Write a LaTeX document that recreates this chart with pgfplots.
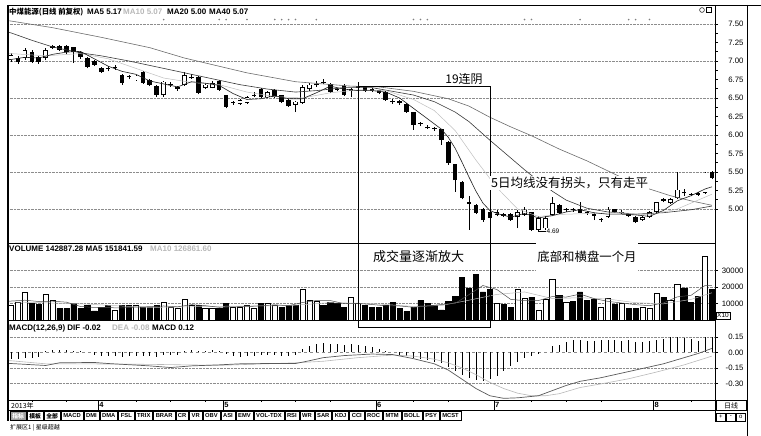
\documentclass[border=0pt]{standalone}
\usepackage{pgfplots}
\pgfplotsset{compat=1.18}
\usepackage{pgfplotstable}
\usepackage{fontspec}
\setmainfont{Liberation Sans}
\newfontfamily\cjk{Noto Sans CJK SC}

\definecolor{ma5c}{gray}{0.12}
\definecolor{ma10c}{gray}{0.75}
\definecolor{ma20c}{gray}{0.22}
\definecolor{ma40c}{gray}{0.42}
\definecolor{gridc}{gray}{0.55}
\definecolor{lightc}{gray}{0.72}

% hollow (rising) candles: index open high low close
\pgfplotstableread{
i o h l c
0 7.01 7.11 6.99 7.08
2 7.04 7.18 7.02 7.15
5 7.04 7.17 7.01 7.15
18 6.74 6.81 6.73 6.80
22 6.54 6.73 6.52 6.72
25 6.68 6.85 6.66 6.81
28 6.64 6.70 6.62 6.68
29 6.64 6.73 6.63 6.70
33 6.42 6.48 6.41 6.47
34 6.43 6.53 6.42 6.51
37 6.51 6.60 6.50 6.58
41 6.41 6.46 6.31 6.45
42 6.43 6.68 6.42 6.65
43 6.62 6.70 6.60 6.68
70 4.92 4.99 4.90 4.96
73 4.89 4.98 4.74 4.96
74 4.92 5.03 4.91 4.99
76 4.72 4.90 4.69 4.88
77 4.74 4.90 4.72 4.88
78 4.92 5.16 4.90 5.08
86 4.89 5.03 4.88 4.99
91 4.85 4.90 4.84 4.89
92 4.89 4.97 4.88 4.96
93 4.96 5.10 4.95 5.09
95 5.08 5.15 5.07 5.13
96 5.15 5.50 5.13 5.26
100 5.22 5.50 5.20 5.49
}\cup

% solid (falling) candles and crosses
\pgfplotstableread{
i o h l c
1 7.04 7.07 6.96 6.99
3 7.12 7.15 6.97 6.99
4 7.05 7.07 6.96 6.99
6 7.18 7.22 7.16 7.19
7 7.19 7.21 7.13 7.15
8 7.19 7.22 7.10 7.12
9 7.18 7.19 6.97 7.12
10 7.12 7.14 7.03 7.05
11 7.03 7.05 6.90 6.92
12 7.00 7.01 6.93 6.95
13 6.90 6.92 6.84 6.85
14 6.90 6.93 6.86 6.89
15 6.90 6.95 6.88 6.91
16 6.81 6.83 6.68 6.70
17 6.79 6.81 6.75 6.78
19 6.84 6.86 6.69 6.70
20 6.74 6.75 6.66 6.68
21 6.66 6.67 6.52 6.54
23 6.68 6.72 6.65 6.67
24 6.62 6.66 6.60 6.64
26 6.77 6.83 6.76 6.78
27 6.78 6.80 6.55 6.57
30 6.73 6.74 6.60 6.61
31 6.53 6.54 6.36 6.38
32 6.44 6.46 6.41 6.43
35 6.53 6.58 6.51 6.54
36 6.61 6.63 6.50 6.51
38 6.60 6.62 6.50 6.51
39 6.53 6.54 6.43 6.45
40 6.47 6.48 6.38 6.39
44 6.67 6.73 6.65 6.68
45 6.71 6.76 6.69 6.70
46 6.68 6.70 6.57 6.58
47 6.61 6.64 6.59 6.62
48 6.66 6.69 6.53 6.54
49 6.60 6.64 6.51 6.62
50 6.64 6.72 6.62 6.66
51 6.64 6.66 6.58 6.60
52 6.62 6.64 6.58 6.60
53 6.60 6.61 6.55 6.57
54 6.58 6.60 6.46 6.47
55 6.46 6.48 6.42 6.44
56 6.45 6.47 6.41 6.43
57 6.41 6.43 6.30 6.31
58 6.30 6.31 6.07 6.14
59 6.16 6.18 6.12 6.15
60 6.10 6.13 6.08 6.09
61 6.09 6.11 6.06 6.08
62 6.07 6.08 5.87 5.93
63 5.90 5.92 5.60 5.62
64 5.60 5.61 5.23 5.39
65 5.36 5.38 5.13 5.15
66 5.09 5.17 4.72 5.07
67 5.05 5.07 4.93 4.95
68 4.99 5.01 4.83 4.85
69 4.95 4.97 4.86 4.88
71 4.91 4.94 4.89 4.92
72 4.92 4.94 4.84 4.85
75 4.95 4.96 4.70 4.72
79 5.05 5.07 4.93 4.95
80 4.98 5.02 4.96 4.99
81 4.99 5.01 4.96 4.98
82 4.99 5.10 4.94 4.95
83 4.95 4.97 4.92 4.94
84 4.93 4.95 4.85 4.91
85 4.86 4.88 4.83 4.85
87 4.99 5.00 4.95 4.96
88 4.95 4.99 4.93 4.94
89 4.93 4.94 4.89 4.91
90 4.89 4.91 4.81 4.82
94 5.11 5.15 5.09 5.13
97 5.23 5.27 5.18 5.21
98 5.20 5.22 5.17 5.19
99 5.19 5.23 5.18 5.21
101 5.50 5.52 5.40 5.42
}\cdn

\pgfplotstableread{
i v
0 8700
1 10600
2 16900
5 15600
6 11900
15 6200
18 8700
22 10600
23 7500
24 6900
25 12500
26 8700
28 6900
29 6900
32 7500
33 7500
34 8700
35 6900
37 10000
38 8700
42 18700
43 11900
44 11200
49 13700
50 10000
70 10000
73 18700
74 13000
76 6200
77 12500
78 25000
80 10600
85 7500
86 13000
88 10000
91 7500
92 6900
93 16000
95 11900
96 21900
100 38700
}\volup

\pgfplotstableread{
i v
3 10000
4 9400
7 6900
8 6900
9 10000
10 6900
11 8700
12 5600
13 7500
14 8700
16 8700
17 8700
19 7500
20 7500
21 8700
27 8700
30 6900
31 10000
36 10000
39 7500
40 8700
41 8700
45 8700
46 10600
47 10000
48 7500
51 8700
52 7500
53 7500
54 9000
55 10600
56 6900
57 5000
58 8000
59 11900
60 10000
61 8700
62 6200
63 11200
64 14400
65 26000
66 19400
67 27500
68 17000
69 18700
71 9400
72 7500
75 13700
79 15000
81 11200
82 17000
83 11900
84 12500
87 9400
89 6900
90 6900
94 13700
97 19400
98 10600
99 14400
101 18700
}\voldn

\pgfplotstableread{
i m
0 -0.06
1 -0.06
2 -0.05
3 -0.05
4 -0.04
5 0.01
6 0.02
7 0.02
8 0.02
9 0.01
10 0.01
12 -0.02
13 -0.03
14 -0.03
15 -0.03
16 -0.04
17 -0.03
18 -0.03
19 -0.03
20 -0.03
21 -0.04
22 -0.02
23 -0.02
24 -0.02
25 0.01
26 0.02
27 0.01
28 0.01
29 0.02
30 0.01
31 -0.01
32 -0.03
33 -0.04
34 -0.03
35 -0.03
36 -0.02
37 -0.02
38 -0.02
39 -0.03
40 -0.03
41 -0.02
42 0.03
43 0.06
44 0.08
45 0.09
46 0.08
47 0.08
48 0.07
49 0.08
50 0.07
51 0.06
52 0.05
53 0.03
54 0.01
56 -0.02
57 -0.03
58 -0.05
59 -0.06
60 -0.07
61 -0.09
62 -0.10
63 -0.14
64 -0.18
65 -0.22
66 -0.25
67 -0.27
68 -0.28
69 -0.26
70 -0.23
71 -0.18
72 -0.13
73 -0.09
74 -0.05
75 -0.03
76 -0.01
78 0.06
79 0.07
80 0.10
81 0.12
82 0.12
83 0.11
84 0.11
85 0.12
86 0.12
87 0.12
88 0.11
89 0.12
90 0.10
91 0.10
92 0.11
93 0.12
94 0.13
95 0.15
96 0.15
97 0.14
98 0.13
99 0.11
100 0.15
101 0.15
}\macdh

\pgfplotsset{
  panel/.style={
    scale only axis, width=707pt,
    xmin=-0.43, xmax=101.44,
    axis line style={line width=0.6pt},
    xtick=\empty,
    ytick pos=right, yticklabel pos=right,
    tick align=outside,
    major tick length=3pt,
    tick style={black, line width=0.5pt},
    yticklabel style={font=\fontsize{7.8}{8}\selectfont, anchor=east, xshift=29pt},
    /pgf/number format/assume math mode=true,
  },
}

\begin{document}
\begin{tikzpicture}
\path[use as bounding box] (0pt,0pt) rectangle (761pt,-436pt);

% ---------------- price panel ----------------
\begin{axis}[panel, at={(8pt,-5pt)}, anchor=north west, height=238pt,
  ymin=4.5405, ymax=7.7567,
  ytick={5,5.25,5.5,5.75,6,6.25,6.5,6.75,7,7.25,7.5},
  minor y tick num=1,
  yticklabel style={/pgf/number format/fixed, /pgf/number format/fixed zerofill, /pgf/number format/precision=2}]
\pgfplotsinvokeforeach{5,5.5,6,6.5,7,7.5}{
  \draw[gridc, densely dotted, line width=0.4pt] (axis cs:-1,#1) -- (axis cs:103,#1);}
% wicks
\addplot[draw=none, mark=none, forget plot, error bars/.cd, y dir=plus, y explicit, error mark=none,
  error bar style={draw=black, solid, line width=0.6pt}]
  table[x=i, y=l, y error plus expr={\thisrow{h}-\thisrow{l}}] {\cdn};
\addplot[draw=none, mark=none, forget plot, error bars/.cd, y dir=plus, y explicit, error mark=none,
  error bar style={draw=black, solid, line width=0.6pt}]
  table[x=i, y=l, y error plus expr={\thisrow{h}-\thisrow{l}}] {\cup};
% solid bodies
\addplot[draw=none, mark=none, forget plot, error bars/.cd, y dir=plus, y explicit, error mark=none,
  error bar style={draw=black, solid, line width=4.6pt}]
  table[x=i, y expr={min(\thisrow{o},\thisrow{c})}, y error plus expr={abs(\thisrow{o}-\thisrow{c})+0.006}] {\cdn};
% hollow bodies
\addplot[draw=none, mark=none, forget plot, error bars/.cd, y dir=plus, y explicit, error mark=none,
  error bar style={draw=black, solid, line width=4.6pt}]
  table[x=i, y=o, y error plus expr={\thisrow{c}-\thisrow{o}}] {\cup};
\addplot[draw=none, mark=none, forget plot, error bars/.cd, y dir=plus, y explicit, error mark=none,
  error bar style={draw=white, solid, line width=3.2pt, shorten <=0.7pt, shorten >=0.7pt}]
  table[x=i, y=o, y error plus expr={\thisrow{c}-\thisrow{o}}] {\cup};
% moving averages
\addplot[ma40c, line width=0.6pt, mark=none] coordinates {
(-1,7.55) (0,7.54) (6,7.45) (13,7.32) (20,7.18) (25,7.04) (34,6.84) (41,6.72) (49,6.66) (53,6.65)
(58,6.59) (63,6.49) (66,6.39) (69,6.24) (72,6.11) (75,5.99) (79,5.81) (83,5.65) (87,5.47)
(91,5.30) (95,5.18) (98,5.11) (101,5.05)};
\addplot[ma20c, line width=0.6pt, mark=none] coordinates {
(-1,7.40) (0,7.38) (3,7.28) (6,7.19) (10,7.11) (13,7.07) (17,7.00) (21,6.92) (25,6.84) (29,6.76)
(33,6.68) (37,6.62) (41,6.58) (44,6.60) (48,6.64) (52,6.64) (55,6.59) (58,6.54) (61,6.45)
(64,6.31) (66,6.18) (69,5.93) (72,5.69) (74,5.53) (76,5.38) (78,5.24) (80,5.12) (83,5.01)
(86,4.96) (90,4.93) (94,4.95) (98,4.99) (101,5.04)};
\addplot[ma10c, line width=0.5pt, mark=none] coordinates {
(-1,7.10) (0,7.10) (5,7.07) (10,7.10) (14,7.03) (18,6.90) (22,6.77) (26,6.71) (30,6.68) (34,6.58)
(38,6.52) (42,6.50) (46,6.57) (50,6.61) (54,6.60) (58,6.48) (61,6.33) (64,6.06) (67,5.66)
(70,5.29) (73,5.00) (76,4.90) (80,4.93) (84,4.94) (88,4.95) (92,4.92) (96,5.00) (101,5.20)};
\addplot[ma5c, line width=0.6pt, mark=none] coordinates {
(-1,7.02) (0,7.02) (2,7.05) (4,7.04) (6,7.09) (8,7.12) (10,7.13) (12,7.03) (14,6.93) (16,6.86)
(18,6.82) (20,6.73) (22,6.69) (24,6.65) (26,6.72) (28,6.70) (30,6.67) (32,6.56) (34,6.48)
(36,6.49) (38,6.53) (40,6.49) (42,6.49) (44,6.57) (46,6.66) (48,6.62) (50,6.60) (52,6.60)
(54,6.58) (56,6.50) (58,6.36) (60,6.22) (62,6.08) (63,5.97) (64,5.82) (65,5.63) (66,5.43)
(67,5.24) (68,5.08) (69,4.98) (70,4.94) (72,4.89) (74,4.94) (76,4.88) (78,4.91) (80,4.96)
(82,4.99) (84,4.95) (86,4.93) (88,4.93) (90,4.92) (92,4.90) (94,4.98) (96,5.11) (98,5.18)
(100,5.27) (101,5.30)};
% info markers along the top
\addplot[only marks, mark=*, mark size=0.6pt, gray] coordinates {
(22,7.56) (30,7.56) (31,7.56) (34,7.56) (38,7.56) (39,7.56) (40,7.56) (41,7.56) (44,7.56)
(58,7.56) (59,7.56) (60,7.56) (74,7.56) (75,7.56) (82,7.56) (89,7.56) (90,7.56) (92,7.56)};
\end{axis}

% ---------------- volume panel ----------------
\begin{axis}[panel, at={(8pt,-243pt)}, anchor=north west, height=77pt,
  ymin=0, ymax=46667,
  ytick={10000,20000,30000}, scaled y ticks=false,
  yticklabel style={/pgf/number format/fixed, /pgf/number format/1000 sep={}}]
\pgfplotsinvokeforeach{10000,20000,30000}{
  \draw[gridc, densely dotted, line width=0.4pt] (axis cs:-1,#1) -- (axis cs:103,#1);}
\addplot[ybar, bar width=5.2pt, bar shift=0pt, fill=white, draw=black, line width=0.5pt, forget plot]
  table[x=i, y=v] {\volup};
\addplot[ybar, bar width=5.2pt, bar shift=0pt, fill=black, draw=black, line width=0.5pt, forget plot]
  table[x=i, y=v] {\voldn};
\addplot[lightc, line width=0.5pt, mark=none] coordinates {
(-1,11000) (0,11000) (10,9800) (20,7600) (30,8300) (40,8700) (46,10500) (52,10000) (58,8200) (62,8800)
(66,12000) (70,15500) (74,17000) (78,13000) (82,13500) (86,12700) (90,10500) (94,9800)
(98,12500) (101,16500)};
\addplot[gray!60!black, line width=0.5pt, mark=none] coordinates {
(-1,11500) (0,11500) (2,12000) (4,11200) (6,11400) (8,10800) (10,8200) (12,7600) (14,7500) (16,7300)
(18,7800) (20,8100) (22,8500) (24,8000) (26,9300) (28,8700) (30,7700) (32,8000) (34,8100)
(36,8600) (38,9200) (40,8700) (42,10600) (44,11800) (46,11800) (48,9900) (50,10000)
(52,9400) (54,8600) (56,8500) (58,7700) (60,8500) (62,9400) (64,10100) (66,15400)
(68,20900) (70,18500) (72,12500) (74,11700) (76,11800) (78,14200) (80,13900) (82,15700)
(84,13000) (86,11300) (88,10300) (90,9300) (92,8700) (94,10300) (96,14000) (98,15000)
(100,20900) (101,20800)};
\end{axis}

% ---------------- MACD panel ----------------
\begin{axis}[panel, at={(8pt,-320pt)}, anchor=north west, height=80pt,
  ymin=-0.4612, ymax=0.3155,
  ytick={-0.3,-0.15,0,0.15},
  yticklabel style={/pgf/number format/fixed, /pgf/number format/fixed zerofill, /pgf/number format/precision=2}]
\pgfplotsinvokeforeach{0.15,-0.15,-0.3}{
  \draw[gridc, densely dotted, line width=0.4pt] (axis cs:-1,#1) -- (axis cs:103,#1);}
\draw[gridc, dashed, line width=0.4pt] (axis cs:-1,0) -- (axis cs:103,0);
\addplot[ycomb, black, line width=0.6pt, mark=none] table[x=i, y=m] {\macdh};
\addplot[lightc, line width=0.6pt, mark=none] coordinates {
(-1,-0.08) (0,-0.08) (5,-0.11) (10,-0.11) (20,-0.115) (30,-0.125) (41,-0.10) (45,-0.085) (50,-0.05)
(55,-0.025) (58,-0.035) (61,-0.065) (63,-0.10) (65,-0.15) (67,-0.215) (69,-0.29) (71,-0.35)
(73,-0.395) (75,-0.42) (77,-0.42) (79,-0.40) (82,-0.34) (85,-0.305) (89,-0.255) (93,-0.19)
(97,-0.12) (101,-0.035)};
\addplot[gray!70!black, line width=0.7pt, mark=none] coordinates {
(-1,-0.105) (0,-0.107) (5,-0.126) (7,-0.10) (12,-0.097) (14,-0.107) (20,-0.13) (23,-0.146) (26,-0.13)
(30,-0.12) (33,-0.11) (37,-0.107) (41,-0.107) (43,-0.08) (45,-0.05) (48,-0.03) (52,-0.015)
(55,-0.02) (58,-0.06) (61,-0.11) (63,-0.17) (65,-0.26) (67,-0.35) (69,-0.42) (71,-0.445)
(73,-0.44) (76,-0.42) (78,-0.37) (80,-0.32) (82,-0.28) (85,-0.245) (88,-0.20) (91,-0.155)
(94,-0.11) (97,-0.05) (99,-0.01) (101,0.04)};
\end{axis}

% ---------------- date bar ----------------
\begin{axis}[scale only axis, width=707pt, height=10.5pt, at={(8pt,-400pt)}, anchor=north west,
  xmin=-0.43, xmax=101.44, ymin=0, ymax=1,
  axis line style={line width=0.6pt},
  ytick=\empty, xtick={3,8,18,23,28,36,41,46,58,63,75,80,85,98},
  xticklabel style={text opacity=0, opacity=0}, xtick pos=right, tick align=inside, major tick length=2pt,
  tick style={black, line width=0.5pt}]
\foreach \p/\m in {12.6/4,30.6/5,52.6/6,69.6/7,92.6/8}{
  \edef\tmp{\noexpand\draw[line width=0.6pt] (axis cs:\p,0) -- (axis cs:\p,1);
    \noexpand\node[anchor=west, inner sep=0.8pt, font=\noexpand\fontsize{7.5}{8}\noexpand\selectfont\noexpand\bfseries] at (axis cs:\p,0.5) {\m};}
  \tmp}
\end{axis}

% ---------------- frame, texts and annotations ----------------
\begin{scope}[x=1pt, y=-1pt]
\draw[line width=1.2pt] (8,5) -- (8,421);
\draw[line width=0.6pt] (715,5) -- (761,5);
\draw[line width=0.6pt] (715,400) -- (715,422);
\draw[line width=0.5pt] (747,5) -- (747,436);
\draw[line width=0.5pt] (702,10) circle (2.4);
\draw[line width=0.5pt] (706.5,7.6) rectangle (711.5,12.6);

\node[anchor=base west, inner sep=0] at (9,14.5) {\cjk\fontsize{7.4}{8}\selectfont\bfseries 中煤能源(日线 前复权)};
\node[anchor=base west, inner sep=0, font=\fontsize{8}{9}\selectfont\bfseries] at (87,14.5) {MA5 5.17};
\node[anchor=base west, inner sep=0, font=\fontsize{8}{9}\selectfont\bfseries, text=lightc] at (123,14.5) {MA10 5.07};
\node[anchor=base west, inner sep=0, font=\fontsize{8}{9}\selectfont\bfseries] at (167,14.5) {MA20 5.00};
\node[anchor=base west, inner sep=0, font=\fontsize{8}{9}\selectfont\bfseries] at (209,14.5) {MA40 5.07};

\node[anchor=base west, inner sep=0, font=\fontsize{8}{9}\selectfont\bfseries] at (9,251.5) {VOLUME 142887.28 MA5 151841.59};
\node[anchor=base west, inner sep=0, font=\fontsize{8}{9}\selectfont\bfseries, text=lightc] at (150,251.5) {MA10 126861.60};

\node[anchor=base west, inner sep=0, font=\fontsize{8}{9}\selectfont\bfseries] at (9,330) {MACD(12,26,9) DIF -0.02};
\node[anchor=base west, inner sep=0, font=\fontsize{8}{9}\selectfont\bfseries, text=lightc] at (112,330) {DEA -0.08};
\node[anchor=base west, inner sep=0, font=\fontsize{8}{9}\selectfont\bfseries] at (152,330) {MACD 0.12};

\node[draw, line width=0.5pt, inner sep=1pt, font=\fontsize{6.5}{7}\selectfont] at (723,315.5) {X10};

% annotations
\draw[line width=0.6pt] (358,86) rectangle (490,327);
\node[anchor=base, inner sep=0] at (464,84) {\cjk\fontsize{12}{12}\selectfont 19连阴};
\node[anchor=west, inner sep=0] at (373,257) {\cjk\fontsize{13}{13}\selectfont 成交量逐渐放大};
\node[fill=white, inner xsep=1.5pt, inner ysep=8pt] at (587,257) {\cjk\fontsize{12.4}{13}\selectfont 底部和横盘一个月};
\node[fill=white, inner sep=1pt, anchor=west] at (490,183) {\cjk\fontsize{12.5}{13}\selectfont 5日均线没有拐头，只有走平};
\draw[line width=0.5pt] (539,231) -- (546,231);
\node[anchor=west, inner sep=0.5pt, font=\fontsize{6.5}{7}\selectfont] at (546,231) {4.69};

% date bar extras
\node[anchor=west, inner sep=0] at (11,405.5) {\cjk\fontsize{7}{7}\selectfont 2013年};
\draw[line width=0.5pt] (716,400.5) rectangle (746,410.5);
\node at (731,405.5) {\cjk\fontsize{7}{7}\selectfont 日线};
\foreach \a/\t in {716/+,726/-,736/o}{
  \draw[line width=0.5pt] (\a,413) rectangle (\a+9.5,421);
  \node[font=\fontsize{6}{6}\selectfont] at (\a+4.75,417) {\t};}

% bottom buttons
\coordinate (btn) at (10,416);
\foreach \t [count=\k] in {{\cjk 指标},{\cjk 模板},{\cjk 全部},MACD,DMI,DMA,FSL,TRIX,BRAR,CR,VR,OBV,ASI,EMV,VOL-TDX,RSI,WR,SAR,KDJ,CCI,ROC,MTM,BOLL,PSY,MCST}{
  \ifnum\k=1
    \node[draw, line width=0.4pt, fill=gray!75, text=white, anchor=west, inner xsep=2.2pt, inner ysep=0pt, minimum height=9pt,
      font=\fontsize{5.8}{6}\selectfont\bfseries] (nb) at (btn) {\t};
  \else
    \node[draw, line width=0.4pt, anchor=west, inner xsep=2.2pt, inner ysep=0pt, minimum height=9pt,
      font=\fontsize{5.8}{6}\selectfont\bfseries] (nb) at (btn) {\t};
  \fi
  \coordinate (btn) at ([xshift=0.6pt]nb.east);
}
\node[anchor=west, inner sep=0] at (10,428) {\cjk\fontsize{6}{6}\selectfont 扩展区1 | 星级超越};
\end{scope}
\end{tikzpicture}
\end{document}
